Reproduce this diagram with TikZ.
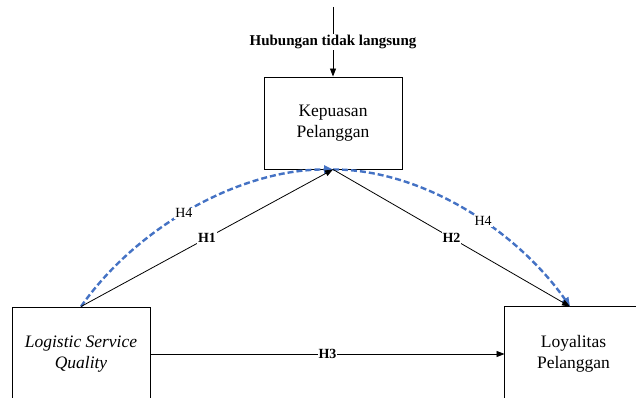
\documentclass[tikz,border=0pt]{standalone}
\usepackage{fontspec}
\setmainfont{Liberation Serif}
\usetikzlibrary{arrows.meta}
\definecolor{hblue}{HTML}{4472C4}
\begin{document}
\begin{tikzpicture}[x=1pt,y=-1pt,
  boxfont/.style={font=\fontsize{17.5}{21}\selectfont},
  varbox/.style={draw, line width=0.9pt, minimum width=138pt, minimum height=92pt,
    inner sep=0pt, align=center, boxfont},
  frame/.style={line width=0.9pt},
  link/.style={line width=0.8pt, -{Triangle[length=8pt,width=6pt]}},
  indirect/.style={draw=hblue, line width=2.4pt, dash pattern=on 6pt off 3pt,
    -{Triangle[length=9pt,width=8pt]}},
  hlab/.style={fill=white, inner sep=1pt, font=\bfseries\fontsize{14}{16}\selectfont},
  hfour/.style={fill=white, inner sep=1pt, font=\fontsize{14}{16}\selectfont},
  toplab/.style={fill=white, inner sep=1pt, font=\bfseries\fontsize{15}{17}\selectfont}
]
\useasboundingbox (0,0) rectangle (636,398);
\clip (0,0) rectangle (636,398);

% variables
\node[varbox] (kp) at (333,123) {Kepuasan\\Pelanggan};
\node[varbox, minimum height=94pt, font=\itshape\fontsize{17.5}{21}\selectfont]
  (lsq) at (81,354) {Logistic Service\\Quality};
\node[varbox, draw=none, minimum width=137pt, minimum height=94pt]
  (lp) at (573.5,354) {Loyalitas\\Pelanggan};
% the right box runs off the edge: only its left and top sides are drawn
\draw[frame] (lp.south west) -- (lp.north west) -- ([xshift=20pt]lp.north east);

\coordinate (src) at (333,7);
\coordinate (lpin) at ([xshift=-3.5pt]lp.north);

% indirect effect (H4)
\draw[indirect] (lsq.north) to[out=55,in=180,looseness=0.85]
  node[hfour,pos=0.47]{H4} (kp.south);
\draw[indirect] (kp.south) to[out=0,in=125,looseness=0.85]
  node[hfour,pos=0.57]{H4} (lpin);

% direct effects
\draw[link] (src) -- node[toplab]{Hubungan tidak langsung} (kp.north);
\draw[link] (lsq.north) -- node[hlab]{H1} (kp.south);
\draw[link] (kp.south) -- node[hlab]{H2} (lpin);
\draw[link] (lsq.east) -- node[hlab]{H3} (lp.west);
\end{tikzpicture}
\end{document}
